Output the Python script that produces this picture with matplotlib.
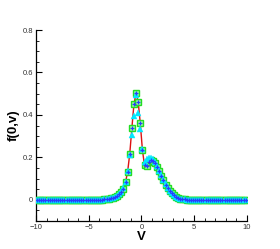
import matplotlib
matplotlib.use("Agg")
import matplotlib.pyplot as plt
from matplotlib.ticker import MultipleLocator, FixedLocator
import numpy as np

plt.rcParams["font.family"] = ["Liberation Sans", "DejaVu Sans"]

# velocity grid (cell centres, spacing 0.2)
v = np.round(np.arange(-9.9, 10.0, 0.2), 1)

# f(0,v), v = -9.9 ... 9.9
f_exact = [
    0, 0, 0, 0, 0, 0, 0, 0, 0, 0,
    0, 0, 0, 0, 0, 0, 0, 0, 0, 0,
    0, 0, 0, 0, 0, 0, 0, 0, 0, 0,
    0.001, 0.001, 0.002, 0.003, 0.005, 0.007, 0.010, 0.014, 0.020, 0.027,
    0.035, 0.053, 0.083, 0.133, 0.217, 0.337, 0.452, 0.502, 0.462, 0.360,
    0.236, 0.162, 0.160, 0.180, 0.188, 0.185, 0.172, 0.155, 0.135, 0.113,
    0.092, 0.072, 0.055, 0.041, 0.030, 0.021, 0.014, 0.009, 0.006, 0.004,
    0.002, 0.001, 0, 0, 0, 0, 0, 0, 0, 0,
    0, 0, 0, 0, 0, 0, 0, 0, 0, 0,
    0, 0, 0, 0, 0, 0, 0, 0, 0, 0,
]

f_tri = [
    0, 0, 0, 0, 0, 0, 0, 0, 0, 0,
    0, 0, 0, 0, 0, 0, 0, 0, 0, 0,
    0, 0, 0, 0, 0, 0, 0, 0, 0, 0,
    0.001, 0.001, 0.002, 0.003, 0.005, 0.007, 0.010, 0.014, 0.020, 0.027,
    0.036, 0.054, 0.085, 0.135, 0.212, 0.303, 0.397, 0.495, 0.410, 0.335,
    0.240, 0.178, 0.190, 0.196, 0.196, 0.190, 0.176, 0.158, 0.137, 0.115,
    0.093, 0.073, 0.056, 0.042, 0.031, 0.022, 0.015, 0.010, 0.006, 0.004,
    0.002, 0.001, 0, 0, 0, 0, 0, 0, 0, 0,
    0, 0, 0, 0, 0, 0, 0, 0, 0, 0,
    0, 0, 0, 0, 0, 0, 0, 0, 0, 0,
]

f_plus = f_exact

fig = plt.figure(figsize=(2.8, 2.49), dpi=100)
ax = fig.add_axes([0.1286, 0.1124, 0.7524, 0.7671])

ax.plot(v, f_exact, "-", color="#dd1111", lw=1.0, zorder=2)
ax.plot(v, f_exact, "s", ms=4.4, mfc="#9dff9d", mec="#22dd22", mew=1.0, ls="none", zorder=3)
ax.plot(v, f_tri, "^", ms=3.8, mfc="#00e8ff", mec="#00e8ff", mew=0.3, ls="none", zorder=4)
ax.plot(v, f_plus, "+", ms=2.6, mec="#2a3cff", mew=0.9, ls="none", zorder=5)

ax.set_xlim(-10, 10)
ax.set_ylim(-0.1, 0.8)

ax.xaxis.set_major_locator(MultipleLocator(5))
ax.xaxis.set_minor_locator(MultipleLocator(1))
ax.yaxis.set_major_locator(FixedLocator([0, 0.2, 0.4, 0.6, 0.8]))
ax.yaxis.set_minor_locator(MultipleLocator(0.05))
ax.set_yticklabels(["0", "0.2", "0.4", "0.6", "0.8"])

for side in ["top", "right"]:
    ax.spines[side].set_visible(False)
for side in ["left", "bottom"]:
    ax.spines[side].set_linewidth(0.9)

ax.tick_params(which="both", direction="in", labelsize=5.5, labelcolor="#333333", pad=2)
ax.tick_params(which="major", length=4, width=0.8)
ax.tick_params(which="minor", length=2.2, width=0.6)

ax.set_xlabel("V", fontsize=9.5, fontweight="bold", labelpad=0)
ax.set_ylabel("f(0,v)", fontsize=9.5, fontweight="bold", labelpad=2)

fig.savefig("out.png", dpi=100)
